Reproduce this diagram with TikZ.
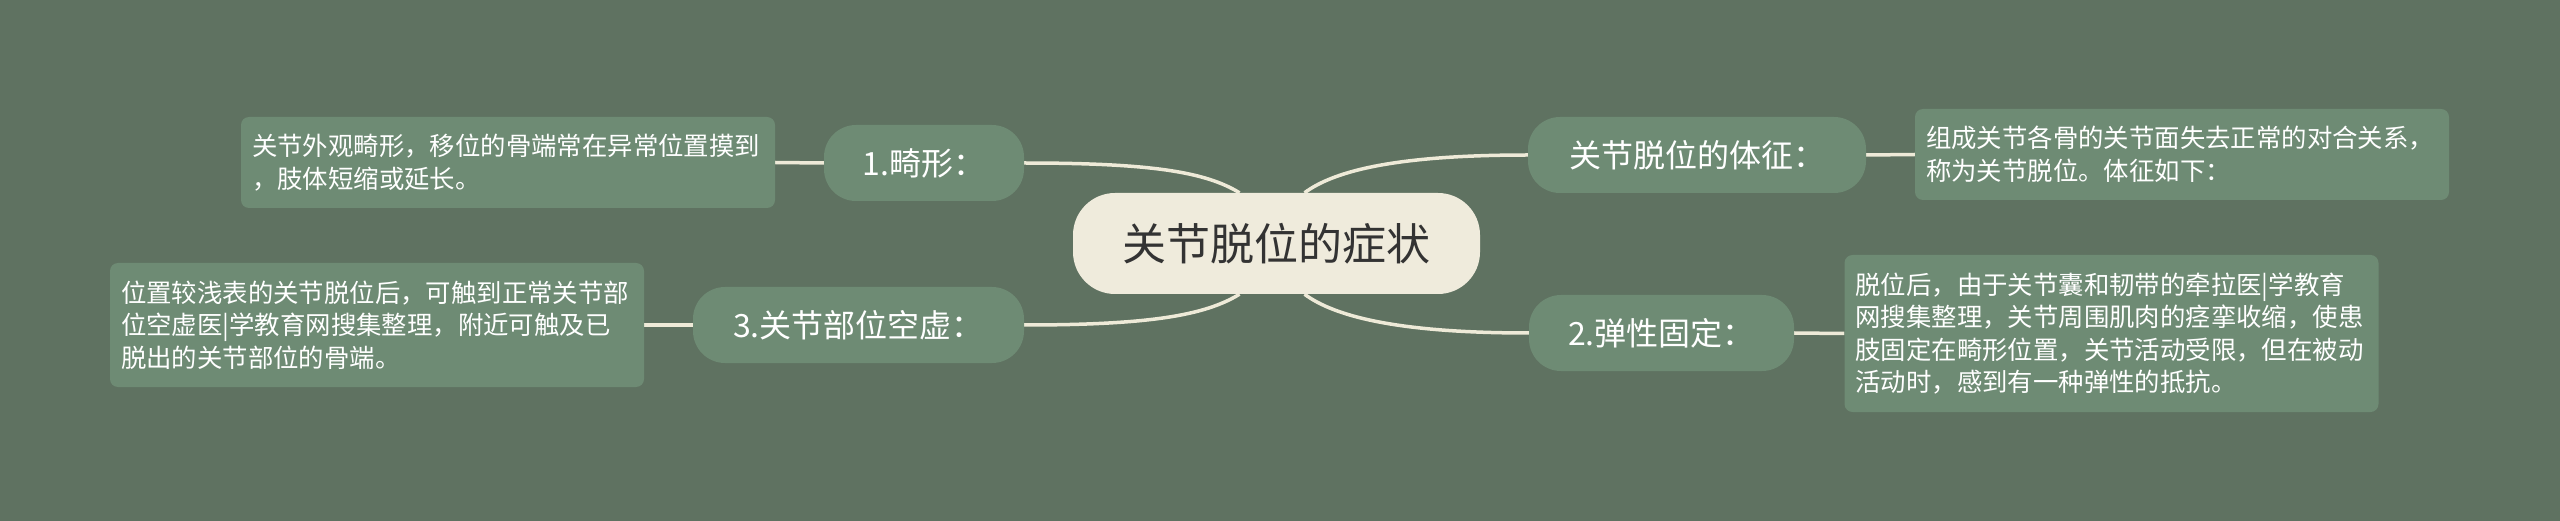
\documentclass[tikz,border=0pt]{standalone}
\usepackage{fontspec}
\setmainfont{Noto Sans CJK SC}
\definecolor{bgc}{HTML}{5F7261}
\definecolor{nodec}{HTML}{6E8B74}
\definecolor{creamc}{HTML}{EFEBDC}
\definecolor{linec}{HTML}{EEEAD8}
\definecolor{darktext}{HTML}{333333}
\pgfdeclarelayer{bglayer}
\pgfdeclarelayer{edgelayer}
\pgfsetlayers{bglayer,edgelayer,main}
\tikzset{
  centralbox/.style={fill=creamc, rounded corners=42pt, minimum width=407pt, minimum height=101pt, inner sep=0pt, text=darktext, font=\fontsize{44}{50}\selectfont},
  branchbox/.style={fill=nodec, rounded corners=32pt, minimum height=76pt, inner sep=0pt, text=white, font=\fontsize{32}{36}\selectfont},
  notebox/.style={fill=nodec, rounded corners=8pt, minimum width=534pt, text width=512pt, inner xsep=11pt, inner ysep=0pt, align=left, text=white, font=\fontsize{25.4}{32.5}\selectfont},
  conn/.style={draw=linec, line width=3.5pt}
}
\begin{document}
\begin{tikzpicture}[x=1pt,y=-1pt]
\begin{pgfonlayer}{bglayer}
\fill[bgc] (0,0) rectangle (2560,521);
\end{pgfonlayer}
\useasboundingbox (0,0) rectangle (2560,521);

\node[centralbox] (c) at (1276.5,243.5) {关节脱位的症状};

\node[branchbox, minimum width=200pt] (b1) at (924,163) {1.畸形：};
\node[branchbox, minimum width=331pt] (b3) at (858.5,325) {3.关节部位空虚：};
\node[branchbox, minimum width=338pt] (bt) at (1697,155) {关节脱位的体征：};
\node[branchbox, minimum width=265pt] (be) at (1661.5,333) {2.弹性固定：};

\node[notebox, minimum height=91pt] (t1) at (508,162.5) {关节外观畸形，移位的骨端常在异常位置摸到\\，肢体短缩或延长。};
\node[notebox, minimum height=124pt] (t3) at (377,325) {位置较浅表的关节脱位后，可触到正常关节部\\位空虚医|学教育网搜集整理，附近可触及已\\脱出的关节部位的骨端。};
\node[notebox, minimum height=91pt] (tt) at (2182,154.5) {组成关节各骨的关节面失去正常的对合关系，\\称为关节脱位。体征如下：};
\node[notebox, minimum height=157pt] (te) at (2111.5,333.5) {脱位后，由于关节囊和韧带的牵拉医|学教育\\网搜集整理，关节周围肌肉的痉挛收缩，使患\\肢固定在畸形位置，关节活动受限，但在被动\\活动时，感到有一种弹性的抵抗。};

\begin{pgfonlayer}{edgelayer}
\draw[conn] ([xshift=-37pt]c.north) .. controls +(-34,-21) and +(126,0) .. (b1.east);
\draw[conn] ([xshift=-37pt]c.south) .. controls +(-34,21) and +(126,0) .. (b3.east);
\draw[conn] ([xshift=28pt]c.north) .. controls +(31,-23) and +(-128,0) .. (bt.west);
\draw[conn] ([xshift=28pt]c.south) .. controls +(31,23) and +(-128,0) .. (be.west);
\draw[conn] (b1.west) -- (t1.east);
\draw[conn] (b3.west) -- (t3.east);
\draw[conn] (bt.east) -- (tt.west);
\draw[conn] (be.east) -- (te.west);
\end{pgfonlayer}
\end{tikzpicture}
\end{document}
